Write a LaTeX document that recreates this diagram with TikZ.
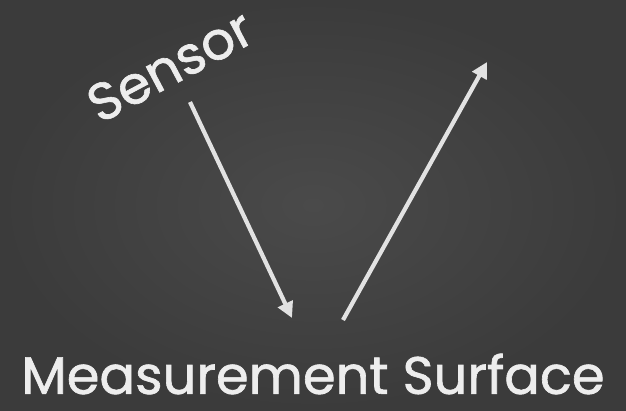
\documentclass[tikz,border=0pt]{standalone}
\usepackage{fontspec}
\setmainfont{Poppins}[AutoFakeBold=1.2]
\usetikzlibrary{arrows.meta,positioning}
\definecolor{boardmid}{HTML}{4A4A4A}
\definecolor{boardedge}{HTML}{3B3B3B}
\definecolor{chalk}{HTML}{EDEDED}

\begin{document}
\begin{tikzpicture}[x=0.02cm, y=0.02cm,
        chalktext/.style={text=chalk, inner sep=0pt, font=\fontsize{30}{34}\selectfont\bfseries},
        chalkarr/.style={-{Triangle[length=9pt, width=9pt]}, line width=2.4pt, chalk!90!gray},
    ]
        % Board
        \shade[inner color=boardmid, outer color=boardedge] (0,0) rectangle (626,410);
        \useasboundingbox (0,0) rectangle (626,410);

        % Labels
        \node[chalktext, rotate=28] (sensor) at (170,344) {Sensor};
        \node[chalktext] (surface) at (313,36) {Measurement Surface};

        % Beam path
        \coordinate (emit) at (190,308);
        \coordinate (hit) at (292,92);
        \coordinate (leave) at (343,90);
        \coordinate (back) at (487,348);

        \draw[chalkarr] (emit) -- (hit);
        \draw[chalkarr] (leave) -- (back);
    \end{tikzpicture}
\end{document}
